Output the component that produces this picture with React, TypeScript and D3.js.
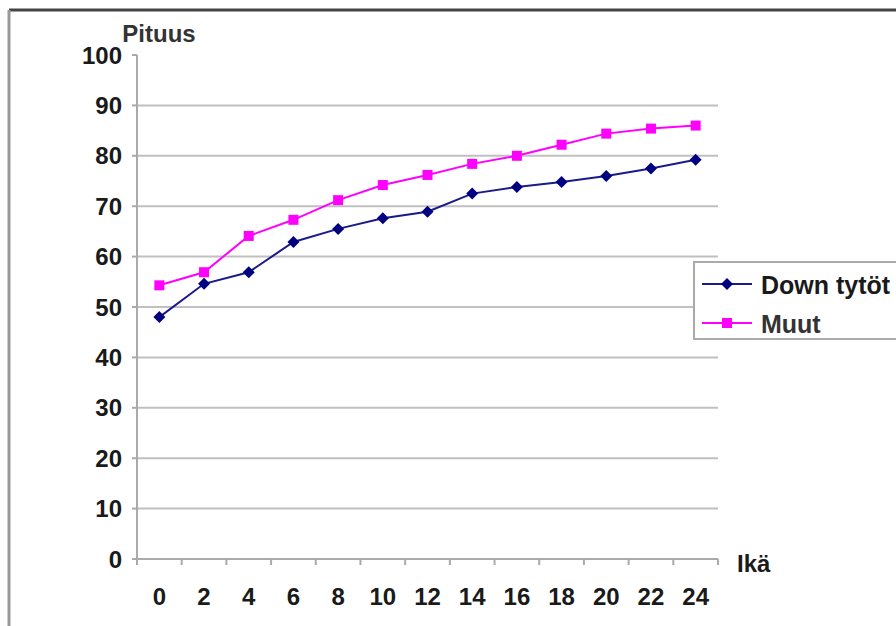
import React from 'react';
import * as d3 from 'd3';

const ages = ['0', '2', '4', '6', '8', '10', '12', '14', '16', '18', '20', '22', '24'];
const downTytot = [48.0, 54.6, 56.9, 62.9, 65.5, 67.6, 68.9, 72.5, 73.8, 74.8, 76.0, 77.5, 79.2];
const muut = [54.3, 56.9, 64.1, 67.3, 71.2, 74.2, 76.2, 78.4, 80.0, 82.2, 84.4, 85.4, 86.0];
const yTicks = [0, 10, 20, 30, 40, 50, 60, 70, 80, 90, 100];

const W = 896;
const H = 626;
const plot = { left: 137, right: 718, top: 55, bottom: 559 };
const font = '"Liberation Sans", Arial, sans-serif';

const App: React.FC = () => {
  const x = d3.scaleBand<string>().domain(ages).range([plot.left, plot.right]);
  const y = d3.scaleLinear().domain([0, 100]).range([plot.bottom, plot.top]);
  const cx = (a: string) => (x(a) ?? 0) + x.bandwidth() / 2;

  const line = d3.line<number>()
    .x((_, i) => cx(ages[i]))
    .y(d => y(d));

  const diamond = (px: number, py: number, r: number) =>
    `M${px},${py - r}L${px + r},${py}L${px},${py + r}L${px - r},${py}Z`;

  return (
    <svg width={W} height={H} style={{ position: 'absolute', left: 0, top: 0, background: '#fff' }}
      fontFamily={font} fontWeight="bold">
      {/* outer frame */}
      <line x1={9} y1={10} x2={W} y2={10} stroke="#444" strokeWidth={3} />
      <line x1={9} y1={10} x2={9} y2={H} stroke="#999" strokeWidth={3} />

      {/* gridlines */}
      {yTicks.filter(t => t > 0 && t < 100).map(t => (
        <line key={t} x1={plot.left} x2={plot.right} y1={y(t)} y2={y(t)} stroke="#c0c0c0" strokeWidth={2} />
      ))}

      {/* y axis */}
      <line x1={plot.left} x2={plot.left} y1={plot.top} y2={plot.bottom} stroke="#aaa" strokeWidth={2} />
      {yTicks.map(t => (
        <g key={t}>
          <line x1={plot.left - 5} x2={plot.left} y1={y(t)} y2={y(t)} stroke="#aaa" strokeWidth={2} />
          <text x={122} y={y(t)} dy="0.36em" textAnchor="end" fontSize={24} fill="#1a1a1a">{t}</text>
        </g>
      ))}
      <text x={159} y={33} dy="0.36em" textAnchor="middle" fontSize={24} fill="#333">Pituus</text>

      {/* x axis */}
      <line x1={plot.left} x2={plot.right} y1={plot.bottom} y2={plot.bottom} stroke="#aaa" strokeWidth={2} />
      {ages.map(a => (
        <line key={'t' + a} x1={x(a)} x2={x(a)} y1={plot.bottom} y2={plot.bottom + 6} stroke="#aaa" strokeWidth={2} />
      ))}
      <line x1={plot.right} x2={plot.right} y1={plot.bottom} y2={plot.bottom + 6} stroke="#aaa" strokeWidth={2} />
      {ages.map(a => (
        <text key={a} x={cx(a)} y={596} dy="0.36em" textAnchor="middle" fontSize={24} fill="#1a1a1a">{a}</text>
      ))}
      <text x={737} y={563} dy="0.36em" fontSize={24} fill="#1a1a1a">Ikä</text>

      {/* series */}
      <path d={line(downTytot) ?? ''} fill="none" stroke="#1a1a8a" strokeWidth={2} />
      {downTytot.map((v, i) => (
        <path key={'d' + i} d={diamond(cx(ages[i]), y(v), 6)} fill="#000080" />
      ))}
      <path d={line(muut) ?? ''} fill="none" stroke="#ff00ff" strokeWidth={2} />
      {muut.map((v, i) => (
        <rect key={'m' + i} x={cx(ages[i]) - 5} y={y(v) - 5} width={10} height={10} fill="#ff00ff" />
      ))}

      {/* legend */}
      <rect x={694} y={262} width={220} height={77} fill="#fff" stroke="#aaa" strokeWidth={2} />
      <line x1={702} x2={752} y1={284} y2={284} stroke="#1a1a8a" strokeWidth={2} />
      <path d={diamond(727, 284, 6)} fill="#000080" />
      <text x={761} y={285} dy="0.36em" fontSize={25} fill="#1a1a1a">Down tytöt</text>
      <line x1={702} x2={752} y1={323} y2={323} stroke="#ff00ff" strokeWidth={2} />
      <rect x={722} y={318} width={10} height={10} fill="#ff00ff" />
      <text x={761} y={324} dy="0.36em" fontSize={25} fill="#333">Muut</text>
    </svg>
  );
};

export default App;
